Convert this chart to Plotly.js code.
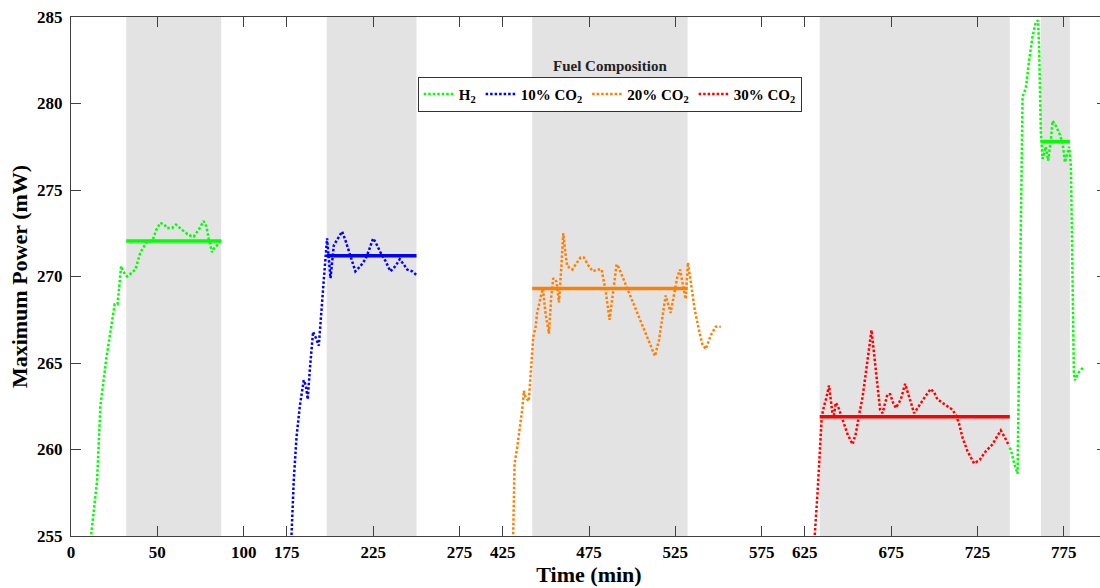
<!DOCTYPE html>
<html>
<head>
<meta charset="utf-8">
<script src="https://cdn.plot.ly/plotly-3.0.1.min.js"></script>
<style>
  html, body { margin: 0; padding: 0; overflow: hidden; background: #fff; }
  #chart { width: 1108px; height: 588px; }
</style>
</head>
<body>
<div id="chart"></div>
<script>
// ---- Data (time in minutes, power in mW) ----
const tickLabels = [0, 50, 100, 175, 225, 275, 425, 475, 525, 575, 625, 675, 725, 775];
// axis positions of the tick labels on the broken (compressed) time axis
const tickAxisPos = [0, 50, 100, 125, 175, 225, 250, 300, 350, 400, 425, 475, 525, 575];
const yTicks = [255, 260, 265, 270, 275, 280, 285];

const h2TimeA = [10.5, 11.6, 15.1, 17.0, 20.5, 23.8, 25.3, 27.0, 28.0, 29.0, 30.1, 32.5, 37.3, 40.2, 44.0, 47.3, 49.4, 51.7, 54.1, 55.6, 58.5, 60.8, 64.3, 68.1, 71.0, 73.9, 76.8, 78.4, 79.7, 81.7, 82.6, 84.6, 86.5];
const h2PowerA = [253.8, 255.0, 258.2, 262.5, 265.3, 267.3, 268.4, 268.4, 269.8, 270.6, 270.3, 270.0, 270.4, 271.4, 272.0, 272.1, 272.7, 273.1, 273.0, 272.8, 272.8, 273.0, 272.7, 272.4, 272.3, 272.7, 273.2, 272.9, 272.2, 271.4, 271.6, 271.8, 272.1];

const co2_10Time = [176.5, 177.7, 179.0, 180.6, 182.5, 184.8, 186.0, 187.1, 188.3, 190.2, 191.6, 193.5, 194.5, 195.4, 196.4, 198.3, 200.3, 202.2, 204.1, 207.0, 208.9, 210.9, 212.8, 214.7, 217.6, 220.5, 222.5, 225.0, 226.3, 229.2, 232.1, 235.0, 237.9, 240.4, 242.7, 244.7, 247.6, 249.9];
const co2_10Power = [253.5, 255.0, 258.2, 260.7, 262.5, 264.0, 263.7, 262.9, 264.6, 266.8, 266.5, 266.0, 267.3, 268.8, 269.8, 272.2, 269.9, 271.8, 272.1, 272.6, 272.1, 271.5, 270.9, 270.3, 270.6, 271.0, 271.5, 272.2, 272.0, 271.4, 270.9, 270.3, 270.6, 271.0, 270.7, 270.4, 270.3, 270.1];

const co2_20Time = [430.5, 431.1, 431.9, 433.4, 436.3, 437.3, 438.3, 440.2, 440.6, 441.6, 442.7, 444.1, 445.0, 447.0, 448.3, 449.8, 451.8, 453.1, 454.3, 456.2, 457.6, 458.9, 460.1, 461.4, 462.4, 465.3, 467.2, 470.1, 472.0, 474.9, 477.3, 479.8, 482.3, 484.6, 486.9, 489.1, 491.0, 492.3, 495.2, 497.2, 501.0, 504.9, 508.8, 513.2, 515.5, 517.5, 519.4, 522.3, 524.7, 526.2, 527.7, 529.1, 531.0, 532.3, 533.9, 536.2, 538.7, 540.6, 542.6, 545.5, 548.4, 551.3];
const co2_20Power = [253.8, 255.1, 259.2, 260.1, 262.3, 263.4, 263.0, 262.8, 263.5, 264.8, 266.5, 267.1, 267.9, 268.8, 269.3, 267.9, 266.7, 268.8, 269.9, 269.7, 268.5, 270.4, 272.5, 271.3, 270.6, 270.4, 270.7, 271.1, 271.1, 270.6, 270.3, 270.4, 270.4, 269.2, 267.5, 269.2, 270.7, 270.5, 269.8, 269.3, 268.3, 267.4, 266.5, 265.4, 266.3, 267.7, 268.9, 267.9, 269.1, 270.0, 270.4, 269.6, 268.7, 270.8, 269.8, 268.1, 266.9, 266.1, 265.8, 266.6, 267.1, 267.1];

const co2_30Time = [630.0, 630.7, 632.3, 633.8, 634.8, 636.1, 637.5, 639.0, 640.0, 641.0, 641.9, 642.9, 644.2, 645.8, 647.7, 649.7, 652.6, 654.5, 656.4, 658.4, 660.3, 661.6, 662.8, 663.6, 664.7, 666.1, 667.4, 668.6, 670.0, 671.3, 672.9, 674.4, 676.1, 677.7, 679.0, 680.6, 683.1, 684.4, 686.4, 688.3, 690.3, 692.1, 695.0, 697.9, 699.9, 701.8, 704.7, 707.6, 710.5, 712.4, 714.3, 716.3, 719.2, 723.0, 726.3, 729.8, 733.7, 736.6, 738.5, 740.8, 743.3];
const co2_30Power = [253.5, 255.0, 257.4, 260.0, 261.9, 262.5, 263.0, 263.7, 263.0, 262.1, 262.0, 262.7, 262.5, 262.0, 261.4, 260.9, 260.3, 260.9, 262.0, 263.0, 264.4, 265.5, 266.3, 266.9, 265.9, 264.4, 263.4, 262.3, 262.1, 262.6, 263.2, 263.2, 262.7, 262.4, 262.6, 262.9, 263.8, 263.4, 262.7, 262.1, 262.4, 262.7, 263.1, 263.5, 263.3, 262.9, 262.7, 262.5, 262.3, 262.0, 261.5, 260.7, 259.9, 259.2, 259.4, 259.9, 260.3, 260.8, 261.1, 260.7, 260.2];

const h2TimeB = [743.5, 744.3, 746.2, 748.2, 751.1, 753.0, 754.9, 756.9, 758.8, 760.1, 760.7, 761.7, 762.7, 764.6, 765.9, 767.5, 768.5, 770.4, 772.3, 774.3, 775.6, 777.2, 778.1, 779.1, 780.8, 781.4, 783.9, 786.8];
const h2PowerB = [260.1, 260.0, 259.2, 258.6, 280.4, 280.9, 282.5, 283.9, 284.7, 284.8, 283.1, 278.3, 276.8, 277.5, 276.7, 277.9, 279.0, 278.7, 278.3, 277.7, 276.6, 277.1, 277.5, 276.4, 264.5, 264.0, 264.5, 264.8];

// steady-state windows (shaded) and their mean power
const windowStart = [32, 198.1, 442.1, 633.6, 761.7];
const windowEnd = [87, 250.1, 532.1, 743.7, 778.5];
const windowMean = [272.05, 271.2, 269.3, 261.9, 277.8];
const windowColor = ['#00FF00', '#0000FF', '#FF8000', '#FF0000', '#00FF00'];

const seriesNames = ['H<sub>2</sub>', '10% CO<sub>2</sub>', '20% CO<sub>2</sub>', '30% CO<sub>2</sub>'];
const seriesColors = ['#00FF00', '#0000FF', '#FF8000', '#FF0000'];

// ---- broken time axis mapping ----
function toAxis(t) {
  const n = tickLabels.length;
  if (t <= tickLabels[0]) return tickAxisPos[0] + (t - tickLabels[0]);
  if (t >= tickLabels[n - 1]) return tickAxisPos[n - 1] + (t - tickLabels[n - 1]);
  for (let i = 0; i < n - 1; i++) {
    if (t >= tickLabels[i] && t <= tickLabels[i + 1]) {
      const f = (t - tickLabels[i]) / (tickLabels[i + 1] - tickLabels[i]);
      return tickAxisPos[i] + f * (tickAxisPos[i + 1] - tickAxisPos[i]);
    }
  }
}
const mapX = arr => arr.map(toAxis);

const FONT = 'Liberation Serif, Times New Roman, serif';
const dotLine = c => ({ color: c, width: 2.5, dash: '2.5px,2px' });

const traces = [
  { x: mapX(h2TimeA), y: h2PowerA, name: seriesNames[0], line: dotLine(seriesColors[0]), legendgroup: 'h2' },
  { x: mapX(co2_10Time), y: co2_10Power, name: seriesNames[1], line: dotLine(seriesColors[1]) },
  { x: mapX(co2_20Time), y: co2_20Power, name: seriesNames[2], line: dotLine(seriesColors[2]) },
  { x: mapX(co2_30Time), y: co2_30Power, name: seriesNames[3], line: dotLine(seriesColors[3]) },
  { x: mapX(h2TimeB), y: h2PowerB, name: seriesNames[0], line: dotLine(seriesColors[0]), legendgroup: 'h2', showlegend: false }
].map(t => Object.assign({ type: 'scatter', mode: 'lines', hoverinfo: 'x+y' }, t));

for (let i = 0; i < windowStart.length; i++) {
  traces.push({
    type: 'scatter', mode: 'lines', showlegend: false,
    x: [toAxis(windowStart[i]), toAxis(windowEnd[i])],
    y: [windowMean[i], windowMean[i]],
    line: { color: windowColor[i], width: 3.5 }
  });
}

const shapes = windowStart.map((s, i) => ({
  type: 'rect', xref: 'x', yref: 'paper', layer: 'below',
  x0: toAxis(s), x1: toAxis(windowEnd[i]), y0: 0, y1: 1,
  fillcolor: '#E3E3E3', line: { width: 0 }
}));

const axisCommon = {
  showgrid: false, zeroline: false, showline: true, linecolor: '#404040', linewidth: 1,
  ticks: 'inside', ticklen: 10, tickcolor: '#404040', tickwidth: 1, mirror: 'ticks',
  tickfont: { family: FONT, size: 17, color: '#000', weight: 'bold' }
};

const layout = {
  width: 1108, height: 588,
  margin: { l: 71, r: 1, t: 17, b: 52 },
  paper_bgcolor: '#fff', plot_bgcolor: 'rgba(0,0,0,0)',
  font: { family: FONT, color: '#000' },
  showlegend: true,
  xaxis: Object.assign({}, axisCommon, {
    range: [0, 600], tickmode: 'array', tickvals: tickAxisPos, ticktext: tickLabels.map(String),
    ticklabelstandoff: 1,
    title: { text: 'Time (min)', font: { family: FONT, size: 22, color: '#000', weight: 'bold' }, standoff: 2 },
    automargin: false
  }),
  yaxis: Object.assign({}, axisCommon, {
    range: [255, 285], tickmode: 'array', tickvals: yTicks, ticktext: yTicks.map(String),
    ticklabelstandoff: 4,
    title: { text: 'Maximum Power (mW)', font: { family: FONT, size: 22, color: '#000', weight: 'bold' }, standoff: 3 },
    automargin: false
  }),
  legend: {
    orientation: 'h', x: 0.52, xanchor: 'center', y: 0.885, yanchor: 'top',
    bgcolor: '#fff', bordercolor: '#333', borderwidth: 1, itemwidth: 30,
    font: { family: FONT, size: 15, color: '#000', weight: 'bold' }, traceorder: 'normal'
  },
  annotations: [{
    text: 'Fuel Composition', xref: 'paper', yref: 'paper',
    x: 0.52, xanchor: 'center', y: 0.905, yanchor: 'middle', showarrow: false,
    font: { family: FONT, size: 15, color: '#222', weight: 'bold' }
  }],
  shapes: shapes
};

Plotly.newPlot('chart', traces, layout, { displayModeBar: false, responsive: false });
</script>
</body>
</html>
